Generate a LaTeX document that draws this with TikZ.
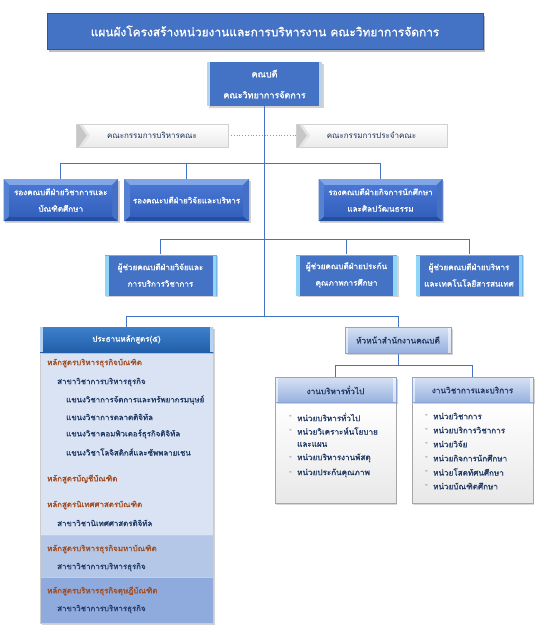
\documentclass[tikz,border=0pt]{standalone}
\usepackage{fontspec}
\setmainfont[Script=Thai]{Loma}
\newfontfamily\tb[Script=Thai,FakeBold=1.1]{Loma}
\usetikzlibrary{shadows,calc}
\definecolor{mblue}{HTML}{4472C4}
\definecolor{dblue}{HTML}{2F5597}
\definecolor{navy}{HTML}{1F3864}
\definecolor{brownr}{HTML}{A04A1C}
\definecolor{cyanband}{HTML}{8FD6F7}
\definecolor{lband}{HTML}{B4D3F0}
\definecolor{pale}{HTML}{DAE3F3}
\definecolor{mid}{HTML}{B4C7E7}
\definecolor{deep}{HTML}{8FAADC}
\definecolor{bvbase}{HTML}{5A8BDA}
\definecolor{bvtop}{HTML}{80A6E8}
\definecolor{bvbot}{HTML}{244EA0}
\definecolor{bvleft}{HTML}{5682D2}
\definecolor{bvright}{HTML}{4670C6}
\definecolor{bvfacet}{HTML}{4876D2}
\definecolor{bvfaceb}{HTML}{3260BC}
\definecolor{lbtop}{HTML}{D6E1F4}
\definecolor{lbbot}{HTML}{96B0DE}
\definecolor{lbdraw}{HTML}{8CA5D4}
\definecolor{prtop}{HTML}{3E80CC}
\definecolor{prbot}{HTML}{225EAA}
\begin{document}
\begin{tikzpicture}[x=1pt,y={(0pt,-1pt)},
  conn/.style={draw=mblue,line width=0.9pt},
  shad/.style={drop shadow={shadow xshift=1.5pt,shadow yshift=-1.8pt,opacity=.35}},
  box/.style={rectangle,inner sep=0pt,align=center},
  titlebox/.style={box,fill=mblue,draw=dblue,line width=0.6pt,
     drop shadow={shadow xshift=2pt,shadow yshift=-2.5pt,opacity=.5},text=white,
     font=\fontsize{11.9}{14}\selectfont\tb},
  deanbox/.style={box,fill=mblue,shad,text=white,font=\fontsize{9}{21}\selectfont\tb,
     path picture={
       \fill[lband] (path picture bounding box.north west) rectangle ([xshift=3pt]path picture bounding box.south west);
       \fill[lband] (path picture bounding box.north east) rectangle ([xshift=-3pt]path picture bounding box.south east);}},
  bevel/.style={box,shad,text=white,font=\fontsize{8.1}{16.5}\selectfont\tb,
     path picture={
       \path (path picture bounding box.north west) coordinate (pnw)
             (path picture bounding box.north east) coordinate (pne)
             (path picture bounding box.south west) coordinate (psw)
             (path picture bounding box.south east) coordinate (pse);
       \fill[bvbase] (pnw) rectangle (pse);
       \fill[bvtop] (pnw) -- (pne) -- ($(pne)+(-6pt,-6pt)$) -- ($(pnw)+(6pt,-6pt)$) -- cycle;
       \fill[bvbot] (psw) -- (pse) -- ($(pse)+(-6pt,5pt)$) -- ($(psw)+(6pt,5pt)$) -- cycle;
       \fill[bvleft] (pnw) -- ($(pnw)+(6pt,-6pt)$) -- ($(psw)+(6pt,5pt)$) -- (psw) -- cycle;
       \fill[bvright] (pne) -- ($(pne)+(-6pt,-6pt)$) -- ($(pse)+(-6pt,5pt)$) -- (pse) -- cycle;
       \shade[top color=bvfacet,bottom color=bvfaceb]
          ($(pnw)+(6pt,-6pt)$) rectangle ($(pse)+(-6pt,5pt)$);}},
  asst/.style={box,fill=mblue,shad,text=white,font=\fontsize{8.1}{16.5}\selectfont\tb,
     path picture={
       \fill[cyanband] (path picture bounding box.north west) rectangle ([xshift=4pt]path picture bounding box.south west);
       \fill[cyanband] (path picture bounding box.north east) rectangle ([xshift=-4pt]path picture bounding box.south east);
       \fill[cyanband!60!mblue] (path picture bounding box.north west) rectangle ([yshift=-1.5pt]path picture bounding box.north east);}},
  cmbox/.style={box,top color=white,bottom color=black!8,draw=black!18,line width=0.5pt,
     drop shadow={shadow xshift=1pt,shadow yshift=-1.2pt,opacity=.25},
     text=navy!85!black,font=\fontsize{8}{9}\selectfont,
     path picture={
       \path (path picture bounding box.north west) coordinate (pnw)
             (path picture bounding box.south west) coordinate (psw);
       \fill[black!22] (pnw) -- ($(pnw)+(3pt,0)$) -- ($(pnw)!0.5!(psw)+(11pt,0)$) -- ($(psw)+(3pt,0)$) -- (psw) -- cycle;
       \fill[black!10] ($(pnw)+(3pt,0)$) -- ($(pnw)+(6pt,0)$) -- ($(pnw)!0.5!(psw)+(14pt,0)$) -- ($(psw)+(6pt,0)$) -- ($(psw)+(3pt,0)$) -- ($(pnw)!0.5!(psw)+(11pt,0)$) -- cycle;}},
  lightbox/.style={box,top color=lbtop,bottom color=lbbot,
     draw=lbdraw,line width=0.5pt,shad,text=navy,font=\fontsize{8.2}{10}\selectfont\tb,
     path picture={
       \fill[white,opacity=.6] (path picture bounding box.north west) rectangle ([xshift=3pt]path picture bounding box.south west);
       \fill[white,opacity=.6] (path picture bounding box.north east) rectangle ([xshift=-3pt]path picture bounding box.south east);}},
  prh/.style={box,top color=prtop,bottom color=prbot,shad,
     text=white,font=\fontsize{7.9}{10}\selectfont\tb,
     path picture={
       \fill[lband] (path picture bounding box.north west) rectangle ([xshift=3pt]path picture bounding box.south west);
       \fill[lband] (path picture bounding box.north east) rectangle ([xshift=-3pt]path picture bounding box.south east);}},
  sect/.style={box,shad,draw=white!80!black,line width=0.4pt},
  subbody/.style={box,top color=white,bottom color=black!9,draw=black!35,line width=0.5pt,
     drop shadow={shadow xshift=1.2pt,shadow yshift=-1.5pt,opacity=.3}},
  hd/.style={anchor=west,inner sep=0pt,text=brownr,font=\fontsize{7.9}{10}\selectfont\tb},
  it/.style={anchor=west,inner sep=0pt,text=navy,font=\fontsize{7.9}{10}\selectfont\tb},
  li/.style={anchor=west,inner sep=0pt,text=navy,font=\fontsize{8.1}{10}\selectfont\tb},
  dsh/.style={anchor=west,inner sep=0pt,text=navy!70,font=\fontsize{8.1}{10}\selectfont},
]
\useasboundingbox[fill=white] (0,0) rectangle (543,640);

% ---------- nodes ----------
\node[titlebox,minimum width=436pt,minimum height=36pt] (title) at (265,31) {แผนผังโครงสร้างหน่วยงานและการบริหารงาน คณะวิทยาการจัดการ};

% bus coordinates
\coordinate (b1) at (264.5,163);
\coordinate (b2) at (264.5,239);
\coordinate (b3) at (264.5,316);
\coordinate (b4) at (398,365);

\node[box,minimum width=115pt,minimum height=44pt] (deanpos) at (264.5,84) {};
\node[box,minimum width=152pt,minimum height=23pt] (cm1pos) at (152,135.5) {};
\node[box,minimum width=151pt,minimum height=23pt] (cm2pos) at (371.5,135.5) {};
\draw[draw=mblue!70,line width=0.8pt,dotted] (cm1pos.east) -- (cm2pos.west);
\draw[conn] (deanpos.south) -- (b3);

\node[box,minimum width=114.5pt,minimum height=42pt] (vd1p) at (60.75,200) {};
\node[box,minimum width=125pt,minimum height=42pt] (vd2p) at (186.5,200) {};
\node[box,minimum width=124pt,minimum height=42pt] (vd3p) at (380.5,200) {};
\draw[conn] (b1) -| (vd1p.north);
\draw[conn] (b1) -| (vd2p.north);
\draw[conn] (b1) -| (vd3p.north);

\node[box,minimum width=112pt,minimum height=41pt] (as1p) at (160.5,275) {};
\node[box,minimum width=101pt,minimum height=41pt] (as2p) at (346.5,275) {};
\node[box,minimum width=107pt,minimum height=41pt] (as3p) at (469,275) {};
\draw[conn] (b2) -| (as1p.north);
\draw[conn] (b2) -| (as2p.north);
\draw[conn] (b2) -| (as3p.north);

\node[box,minimum width=173pt,minimum height=25pt] (prp) at (126.5,339.5) {};
\node[box,minimum width=106pt,minimum height=26pt] (hubp) at (398,340) {};
\draw[conn] (b3) -| (prp.north);
\draw[conn] (b3) -| (hubp.north);

\node[box,minimum width=121pt,minimum height=25pt] (s1p) at (335.5,390) {};
\node[box,minimum width=121pt,minimum height=25pt] (s2p) at (472.5,390) {};
\draw[conn] (hubp.south) -- (b4);
\draw[conn] (b4) -| (s1p.north);
\draw[conn] (b4) -| (s2p.north);

% ---------- boxes drawn over the connectors ----------
\node[deanbox,minimum width=115pt,minimum height=44pt] (dean) at (264.5,84) {คณบดี\\คณะวิทยาการจัดการ};
\node[cmbox,minimum width=152pt,minimum height=23pt] (cm1) at (152,135.5) {คณะกรรมการบริหารคณะ};
\node[cmbox,minimum width=151pt,minimum height=23pt] (cm2) at (371.5,135.5) {คณะกรรมการประจำคณะ};

\node[bevel,minimum width=114.5pt,minimum height=42pt] (vd1) at (60.75,200) {รองคณบดีฝ่ายวิชาการและ\\บัณฑิตศึกษา};
\node[bevel,minimum width=125pt,minimum height=42pt] (vd2) at (186.5,200) {รองคณะบดีฝ่ายวิจัยและบริหาร};
\node[bevel,minimum width=124pt,minimum height=42pt] (vd3) at (380.5,200) {รองคณบดีฝ่ายกิจการนักศึกษา\\และศิลปวัฒนธรรม};

\node[asst,minimum width=112pt,minimum height=41pt] (as1) at (160.5,275) {ผู้ช่วยคณบดีฝ่ายวิจัยและ\\การบริการวิชาการ};
\node[asst,minimum width=101pt,minimum height=41pt] (as2) at (346.5,275) {ผู้ช่วยคณบดีฝ่ายประกัน\\คุณภาพการศึกษา};
\node[asst,minimum width=107pt,minimum height=41pt] (as3) at (469,275) {ผู้ช่วยคณบดีฝ่ายบริหาร\\และเทคโนโลยีสารสนเทศ};

% program panel
\node[sect,fill=pale,minimum width=173pt,minimum height=183pt] (p1) at (126.5,443.5) {};
\node[sect,fill=mid,minimum width=173pt,minimum height=42pt] (p2) at (126.5,556) {};
\node[sect,fill=deep,minimum width=173pt,minimum height=46pt] (p3) at (126.5,600) {};
\node[prh,minimum width=173pt,minimum height=25pt] (prhead) at (126.5,339.5) {ประธานหลักสูตร(๕)};

\node[hd] (t1) at (47,363) {หลักสูตรบริหารธุรกิจบัณฑิต};
\node[it] (t2) at (57,382) {สาขาวิชาการบริหารธุรกิจ};
\node[it] (t3) at (66,400) {แขนงวิชาการจัดการและทรัพยากรมนุษย์};
\node[it] (t4) at (66,417) {แขนงวิชาการตลาดดิจิทัล};
\node[it] (t5) at (66,434) {แขนงวิชาคอมพิวเตอร์ธุรกิจดิจิทัล};
\node[it] (t6) at (66,452) {แขนงวิชาโลจิสติกส์และซัพพลายเชน};
\node[hd] (t7) at (47,479) {หลักสูตรบัญชีบัณฑิต};
\node[hd] (t8) at (47,505) {หลักสูตรนิเทศศาสตรบัณฑิต};
\node[it] (t9) at (57,523) {สาขาวิชานิเทศศาสตรดิจิทัล};
\node[hd] (t10) at (47,549) {หลักสูตรบริหารธุรกิจมหาบัณฑิต};
\node[it] (t11) at (57,567) {สาขาวิชาการบริหารธุรกิจ};
\node[hd] (t12) at (47,591) {หลักสูตรบริหารธุรกิจดุษฎีบัณฑิต};
\node[it] (t13) at (57,609) {สาขาวิชาการบริหารธุรกิจ};

% office
\node[lightbox,minimum width=106pt,minimum height=26pt] (hub) at (398,340) {หัวหน้าสำนักงานคณบดี};
\node[subbody,minimum width=121pt,minimum height=101pt] (s1b) at (335.5,453) {};
\node[subbody,minimum width=121pt,minimum height=101pt] (s2b) at (472.5,453) {};
\node[lightbox,minimum width=121pt,minimum height=25pt] (s1h) at (335.5,390) {งานบริหารทั่วไป};
\node[lightbox,minimum width=121pt,minimum height=25pt] (s2h) at (472.5,390) {งานวิชาการและบริการ};

\foreach \yy/\tt in {417/หน่วยบริหารทั่วไป,431/หน่วยวิเคราะห์นโยบาย,458/หน่วยบริหารงานพัสดุ,473/หน่วยประกันคุณภาพ}{
  \node[dsh] at (289,\yy) {-};
  \node[li] at (297,\yy) {\tt};
}
\node[li] at (297,444.5) {และแผน};
\foreach \yy/\tt in {416/หน่วยวิชาการ,430/หน่วยบริการวิชาการ,444/หน่วยวิจัย,458/หน่วยกิจการนักศึกษา,472/หน่วยโสตทัศนศึกษา,486/หน่วยบัณฑิตศึกษา}{
  \node[dsh] at (425,\yy) {-};
  \node[li] at (433,\yy) {\tt};
}
\end{tikzpicture}
\end{document}
